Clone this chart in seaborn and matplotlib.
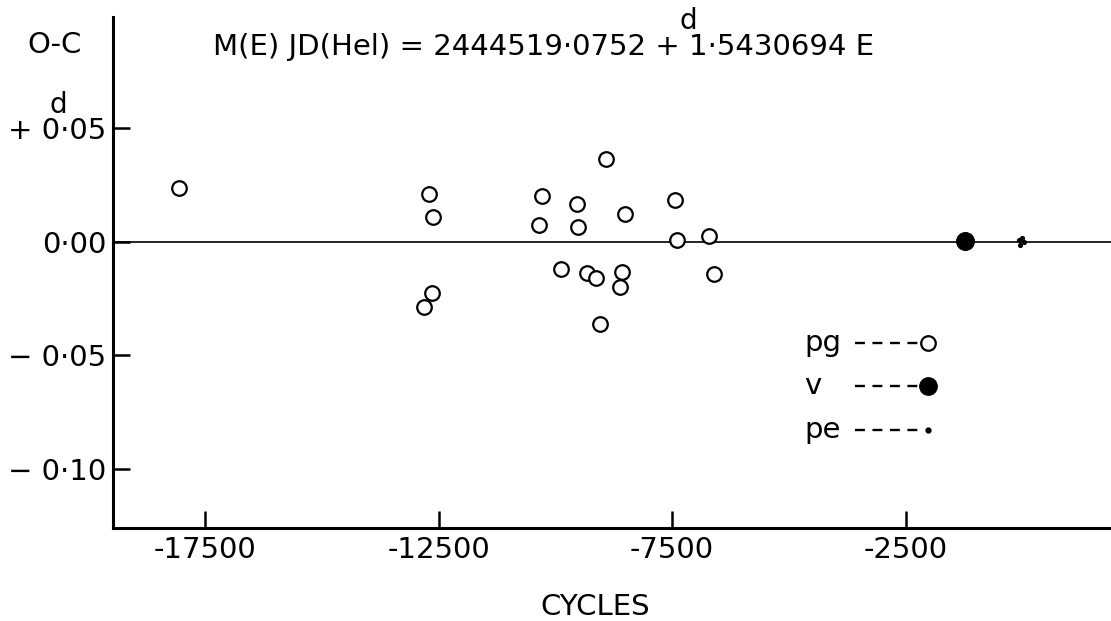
import seaborn as sns
import matplotlib
import matplotlib.pyplot as plt
import pandas as pd

# O-C values
pg_cycles = [-18057, -12704, -12625, -12633, -12805, -10291, -10343, -9878, -9535, -9520,
             -8921, -9328, -9122, -8514, -8565, -8615, -9037, -7431, -7388, -6709, -6609]
pg_oc = [0.0239, 0.0210, 0.0109, -0.0226, -0.0288, 0.0204, 0.0072, -0.0119, 0.0167, 0.0067,
         0.0363, -0.0135, -0.0160, 0.0122, -0.0132, -0.0198, -0.0363, 0.0185, 0.0009, 0.0025, -0.0140]
v_cycles = [-1222]
v_oc = [0.0004]
pe_cycles = [-75, -10, 35, -45]
pe_oc = [0.0010, 0.0016, -0.0002, -0.0013]

y_ticks = [0.05, 0.0, -0.05, -0.10]
y_labels = ["+ 0·05", "0·00", "− 0·05", "− 0·10"]
x_ticks = [-17500, -12500, -7500, -2500]
x_labels = ["-17500", "-12500", "-7500", "-2500"]

sns.set_style("ticks")
matplotlib.rcParams["font.family"] = ["DejaVu Sans"]
matplotlib.rcParams["text.color"] = "black"

pg = pd.DataFrame({"cycles": pg_cycles, "oc": pg_oc})
v = pd.DataFrame({"cycles": v_cycles, "oc": v_oc})
pe = pd.DataFrame({"cycles": pe_cycles, "oc": pe_oc})

fig = plt.figure(figsize=(11.11, 6.21), dpi=100)
ax = fig.add_axes([113 / 1111, 1 - 528 / 621, 998 / 1111, 511 / 621])

ax.axhline(0, color="black", lw=1.2, zorder=1)
sns.scatterplot(data=pg, x="cycles", y="oc", ax=ax, marker="o", s=110,
                facecolor="white", edgecolor="black", linewidth=1.6, zorder=3)
sns.scatterplot(data=v, x="cycles", y="oc", ax=ax, marker="o", s=160,
                color="black", edgecolor="black", zorder=3)
sns.scatterplot(data=pe, x="cycles", y="oc", ax=ax, marker="o", s=14,
                color="black", edgecolor="black", linewidth=0, zorder=3)

ax.set_xlim(-19470, 1898)
ax.set_ylim(-0.126, 0.099)
ax.set_xticks(x_ticks)
ax.set_xticklabels(x_labels, fontsize=21)
ax.set_yticks(y_ticks)
ax.set_yticklabels(y_labels, fontsize=21)
ax.tick_params(direction="in", length=12, width=1.8, colors="black")
ax.tick_params(axis="x", pad=6)
ax.tick_params(axis="y", pad=5)
ax.set_xlabel("")
ax.set_ylabel("")
sns.despine(ax=ax)
for s in ["left", "bottom"]:
    ax.spines[s].set_linewidth(2.2)
    ax.spines[s].set_color("black")

# hand-drawn style legend
rows = [("pg", 0.362, dict(mfc="white", mec="black", ms=10.5, mew=1.6)),
        ("v", 0.278, dict(mfc="black", mec="black", ms=12.5)),
        ("pe", 0.192, dict(mfc="black", mec="black", ms=3.5))]
for name, yy, mk in rows:
    ax.text(0.693, yy, name, transform=ax.transAxes, fontsize=21, va="center", ha="left")
    ax.plot([0.743, 0.809], [yy, yy], transform=ax.transAxes, color="black",
            lw=1.7, dashes=(4.2, 3.2))
    ax.plot([0.817], [yy], transform=ax.transAxes, marker="o", ls="none", **mk)

fig.text(27 / 1111, 1 - 45 / 621, "O-C", fontsize=21, va="center", ha="left")
fig.text(58 / 1111, 1 - 105 / 621, "d", fontsize=20, va="center", ha="center")
fig.text(213 / 1111, 1 - 47 / 621, "M(E) JD(Hel) = 2444519·0752 + 1·5430694 E",
         fontsize=21, va="center", ha="left")
fig.text(688 / 1111, 1 - 21 / 621, "d", fontsize=20, va="center", ha="center")
fig.text(595 / 1111, 1 - 607 / 621, "CYCLES", fontsize=21, va="center", ha="center")

fig.savefig("out.png", dpi=100)
